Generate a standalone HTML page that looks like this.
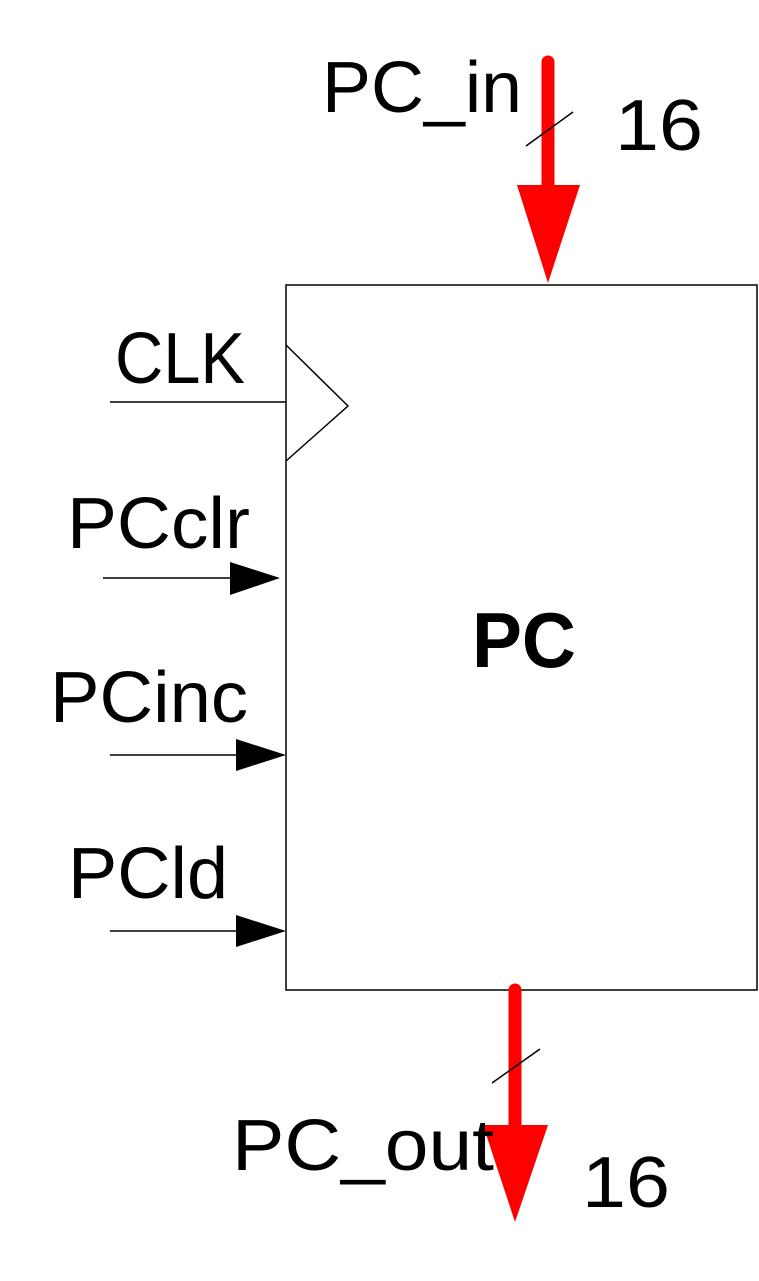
<!DOCTYPE html>
<html><head><meta charset="utf-8"><style>html,body{margin:0;padding:0;background:#fff}svg{display:block}</style></head>
<body>
<svg width="759" height="1281" viewBox="0 0 759 1281" xmlns="http://www.w3.org/2000/svg" font-family="Liberation Sans, sans-serif">
<rect x="286" y="285" width="471" height="705" fill="#fff" stroke="#000" stroke-width="1.5"/>
<!-- top red arrow -->
<line x1="548" y1="62" x2="548" y2="195" stroke="#f00" stroke-width="13" stroke-linecap="round"/>
<polygon points="517,185 580,185 548,283" fill="#f00"/>
<line x1="526" y1="146" x2="573" y2="112" stroke="#000" stroke-width="1.5"/>
<text x="322" y="112" font-size="72" textLength="200" lengthAdjust="spacingAndGlyphs">PC_in</text>
<text x="615" y="150" font-size="72" textLength="88" lengthAdjust="spacingAndGlyphs">16</text>
<!-- CLK -->
<text x="115" y="383" font-size="72" textLength="130" lengthAdjust="spacingAndGlyphs">CLK</text>
<line x1="110" y1="402" x2="286" y2="402" stroke="#000" stroke-width="1.5"/>
<polyline points="286,345 348,406 286,461" fill="none" stroke="#000" stroke-width="1.5"/>
<!-- PCclr -->
<text x="67" y="548" font-size="72" textLength="183" lengthAdjust="spacingAndGlyphs">PCclr</text>
<line x1="103" y1="578" x2="235" y2="578" stroke="#000" stroke-width="1.5"/>
<polygon points="230,562 280,578 230,595" fill="#000"/>
<!-- PCinc -->
<text x="50" y="722" font-size="72" textLength="198" lengthAdjust="spacingAndGlyphs">PCinc</text>
<line x1="110" y1="755" x2="240" y2="755" stroke="#000" stroke-width="1.5"/>
<polygon points="236,739 286,755 236,771" fill="#000"/>
<!-- PCld -->
<text x="68" y="898" font-size="72" textLength="160" lengthAdjust="spacingAndGlyphs">PCld</text>
<line x1="110" y1="931" x2="240" y2="931" stroke="#000" stroke-width="1.5"/>
<polygon points="236,915 286,931 236,947" fill="#000"/>
<!-- PC -->
<text x="472" y="667" font-size="78" font-weight="bold" textLength="104" lengthAdjust="spacingAndGlyphs">PC</text>
<!-- bottom red arrow -->
<line x1="515" y1="990" x2="515" y2="1135" stroke="#f00" stroke-width="13" stroke-linecap="round"/>
<polygon points="483,1125 548,1125 515,1222" fill="#f00"/>
<line x1="492" y1="1083" x2="540" y2="1049" stroke="#000" stroke-width="1.5"/>
<text x="232" y="1170" font-size="72" textLength="262" lengthAdjust="spacingAndGlyphs">PC_out</text>
<text x="582" y="1207" font-size="72" textLength="88" lengthAdjust="spacingAndGlyphs">16</text>
</svg>
</body></html>
